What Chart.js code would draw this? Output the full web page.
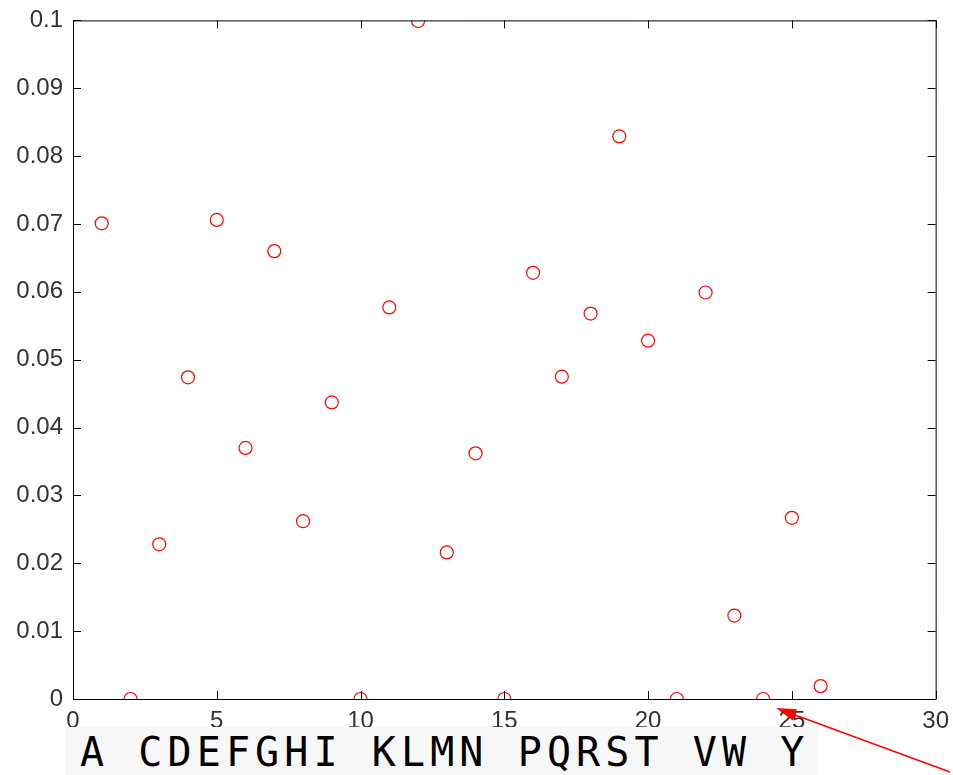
<!DOCTYPE html>
<html>
<head>
<meta charset="utf-8">
<script src="https://cdn.jsdelivr.net/npm/chart.js@4.4.1/dist/chart.umd.min.js"></script>
<style>
  html, body { margin: 0; padding: 0; background: #fff; }
  #wrap { position: relative; width: 953px; height: 775px; overflow: hidden; }
  #aaChart { position: absolute; left: 0; top: -4px; }
  #letters {
    position: absolute; left: 65px; top: 727px; width: 753px; height: 48px;
    box-sizing: border-box; padding-left: 15px;
    background: #f7f7f7; color: #000;
    font-family: "DejaVu Sans Mono", monospace; font-size: 40px;
    letter-spacing: 5.1px; line-height: 50px; white-space: pre;
  }
</style>
</head>
<body>
<div id="wrap">
  <canvas id="aaChart" width="957" height="779"></canvas>
  <div id="letters"></div>
</div>
<script>
// ===== Data =====
const positions = [1, 2, 3, 4, 5, 6, 7, 8, 9, 10, 11, 12, 13, 14, 15, 16, 17, 18, 19, 20, 21, 22, 23, 24, 25, 26];
const frequencies = [0.0701, 0, 0.0228, 0.0474, 0.0706, 0.0370, 0.0660, 0.0262, 0.0437, 0,
  0.0577, 0.0999, 0.0216, 0.0362, 0, 0.0628, 0.0475, 0.0568, 0.0829, 0.0528,
  0, 0.0599, 0.0123, 0, 0.0267, 0.0019];
// letters under the axis (blank where B, J, O, U, X sit)
const letters = ['A', ' ', 'C', 'D', 'E', 'F', 'G', 'H', 'I', ' ', 'K', 'L', 'M', 'N', ' ',
  'P', 'Q', 'R', 'S', 'T', ' ', 'V', 'W', ' ', 'Y'];
const xTickValues = [0, 5, 10, 15, 20, 25, 30];
const xTickLabels = ['0', '5', '10', '15', '20', '25', '30'];
const yTickValues = [0, 0.01, 0.02, 0.03, 0.04, 0.05, 0.06, 0.07, 0.08, 0.09, 0.1];
const yTickLabels = ['0', '0.01', '0.02', '0.03', '0.04', '0.05', '0.06', '0.07', '0.08', '0.09', '0.1'];

document.getElementById('letters').textContent = letters.join('');

// ===== Box with inward ticks (matlab style) =====
const boxPlugin = {
  id: 'box',
  afterDatasetsDraw(chart) {
    const { ctx, chartArea: a, scales: { x, y } } = chart;
    const tl = 8;
    ctx.save();
    ctx.strokeStyle = '#000';
    ctx.lineWidth = 1;
    ctx.beginPath();
    ctx.rect(a.left + 0.5, a.top + 0.5, a.right - a.left, a.bottom - a.top);
    x.ticks.forEach(t => {
      const px = Math.round(x.getPixelForValue(t.value)) + 0.5;
      ctx.moveTo(px, a.bottom); ctx.lineTo(px, a.bottom - tl);
      ctx.moveTo(px, a.top); ctx.lineTo(px, a.top + tl);
    });
    y.ticks.forEach(t => {
      const py = Math.round(y.getPixelForValue(t.value)) + 0.5;
      ctx.moveTo(a.left, py); ctx.lineTo(a.left + tl, py);
      ctx.moveTo(a.right, py); ctx.lineTo(a.right - tl, py);
    });
    ctx.stroke();
    ctx.restore();
  }
};

// ===== Red arrow pointing at the axis =====
const arrowPlugin = {
  id: 'arrow',
  afterDraw(chart) {
    const { ctx, scales: { x, y } } = chart;
    const tipX = x.getPixelForValue(24.45);
    const tipY = y.getPixelForValue(0) + 9;
    const tailX = 950, tailY = 776;
    const ang = Math.atan2(tipY - tailY, tipX - tailX);
    const len = 20, half = 6;
    ctx.save();
    ctx.strokeStyle = '#ff0000';
    ctx.fillStyle = '#ff0000';
    ctx.lineWidth = 1.5;
    ctx.beginPath();
    ctx.moveTo(tailX, tailY);
    ctx.lineTo(tipX - Math.cos(ang) * len * 0.8, tipY - Math.sin(ang) * len * 0.8);
    ctx.stroke();
    const bx = tipX - Math.cos(ang) * len, by = tipY - Math.sin(ang) * len;
    ctx.beginPath();
    ctx.moveTo(tipX, tipY);
    ctx.lineTo(bx + Math.sin(ang) * half, by - Math.cos(ang) * half);
    ctx.lineTo(bx - Math.sin(ang) * half, by + Math.cos(ang) * half);
    ctx.closePath();
    ctx.fill();
    ctx.restore();
  }
};

const tickFont = { family: '"Liberation Sans", Arial, sans-serif', size: 24 };

// ===== Chart.js - scatter =====
const ctx = document.getElementById('aaChart').getContext('2d');
new Chart(ctx, {
  type: 'scatter',
  data: {
    datasets: [{
      data: positions.map((p, i) => ({ x: p, y: frequencies[i] })),
      pointStyle: 'circle',
      pointRadius: 6.5,
      pointBorderWidth: 1.2,
      borderColor: '#ff0000',
      backgroundColor: 'rgba(0,0,0,0)'
    }]
  },
  options: {
    responsive: false,
    animation: false,
    events: [],
    layout: { padding: 0 },
    plugins: {
      legend: { display: false },
      tooltip: { enabled: false }
    },
    scales: {
      x: {
        type: 'linear',
        min: 0,
        max: 30,
        afterBuildTicks: scale => { scale.ticks = xTickValues.map(v => ({ value: v })); },
        afterFit: scale => { scale.height = 76; },
        grid: { display: false, drawTicks: false },
        border: { display: false },
        ticks: {
          padding: 8,
          color: '#333',
          font: tickFont,
          maxRotation: 0,
          callback: (v, i) => xTickLabels[i]
        }
      },
      y: {
        type: 'linear',
        min: 0,
        max: 0.1,
        afterBuildTicks: scale => { scale.ticks = yTickValues.map(v => ({ value: v })); },
        afterFit: scale => { scale.width = 73; },
        grid: { display: false, drawTicks: false },
        border: { display: false },
        ticks: {
          padding: 10,
          color: '#333',
          font: tickFont,
          callback: (v, i) => yTickLabels[i]
        }
      }
    }
  },
  plugins: [boxPlugin, arrowPlugin]
});
</script>
</body>
</html>
